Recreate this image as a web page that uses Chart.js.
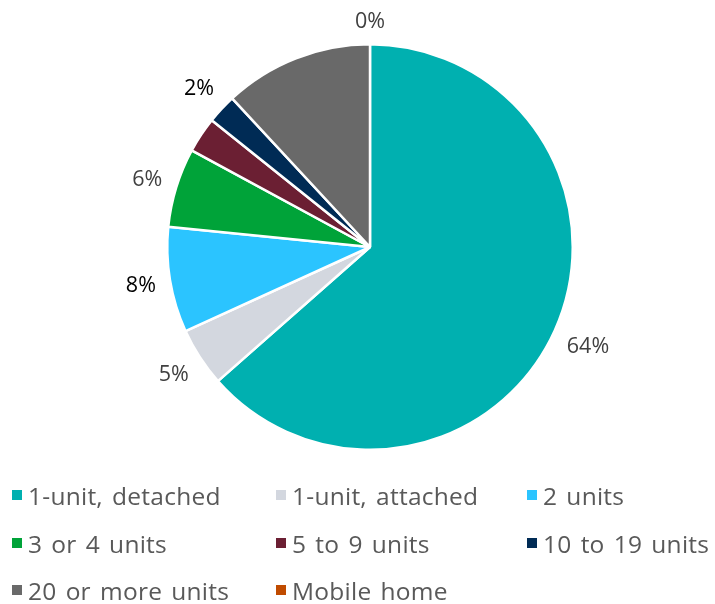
<!DOCTYPE html>
<html>
<head>
<meta charset="utf-8">
<script src="https://cdn.jsdelivr.net/npm/chart.js@4"></script>
<style>
  html, body { margin: 0; padding: 0; background: #fff; }
  #wrap { position: relative; width: 715px; height: 604px; }
  #pie { position: absolute; left: 0; top: 0; }
  #legend { position: absolute; left: 0; top: 0; width: 715px; height: 604px; pointer-events: none;
            font-family: "Open Sans", Lato, sans-serif; font-size: 24.5px; color: #595959;
            letter-spacing: 0.25px; word-spacing: 2.5px; }
  .item { position: absolute; white-space: nowrap; display: flex; align-items: center; }
  .box { width: 10px; height: 10px; margin-right: 6px; }
</style>
</head>
<body>
<div id="wrap">
  <canvas id="pie" width="715" height="604"></canvas>
  <div id="legend"></div>
</div>
<script>
// housing type shares (percent)
const categories = ['1-unit, detached', '1-unit, attached', '2 units', '3 or 4 units',
                    '5 to 9 units', '10 to 19 units', '20 or more units', 'Mobile home'];
const shares = [63.5, 4.7, 8.4, 6.3, 2.85, 2.35, 11.9, 0.0];
// labels that are actually shown next to the slices ('' = none)
const shownLabels = ['64%', '5%', '8%', '6%', '', '2%', '', '0%'];

const colors = ['#00B0B0', '#D3D7DF', '#2BC4FF', '#00A339', '#6B1F33', '#002B55', '#696969', '#C04B00'];
const labelColors = ['#404040', '#404040', '#000000', '#404040', '#404040', '#000000', '#404040', '#404040'];

// draws the % labels just outside each slice
const outsideLabels = {
    id: 'outsideLabels',
    afterDatasetsDraw(chart) {
        const ctx = chart.ctx;
        const meta = chart.getDatasetMeta(0);
        ctx.save();
        ctx.font = '21.5px "Open Sans", Lato, sans-serif';
        ctx.textAlign = 'center';
        ctx.textBaseline = 'middle';
        meta.data.forEach((arc, i) => {
            const txt = shownLabels[i];
            if (!txt) return;
            const mid = (arc.startAngle + arc.endAngle) / 2;
            const cos = Math.cos(mid), sin = Math.sin(mid);
            const w = ctx.measureText(txt).width;
            const h = 20;
            const d = arc.outerRadius + 13 + Math.abs(cos) * w / 2 + Math.abs(sin) * h / 2;
            ctx.fillStyle = labelColors[i];
            ctx.fillText(txt, arc.x + cos * d, arc.y + sin * d + 1);
        });
        ctx.restore();
    }
};

const chart = new Chart(document.getElementById('pie'), {
    type: 'pie',
    data: {
        labels: categories,
        datasets: [{
            data: shares,
            backgroundColor: colors,
            borderColor: '#ffffff',
            borderWidth: 2.5
        }]
    },
    options: {
        responsive: false,
        animation: false,
        layout: { padding: { left: 166, right: 141, top: 43, bottom: 153 } },
        plugins: {
            legend: { display: false },
            tooltip: { enabled: false }
        }
    },
    plugins: [outsideLabels]
});

// legend in three columns, like the original
const legendCols = [12, 276, 527];
const legendRows = [497, 545, 592];
const legend = document.getElementById('legend');
categories.forEach((name, i) => {
    const el = document.createElement('div');
    el.className = 'item';
    el.style.left = legendCols[i % 3] + 'px';
    el.style.top = (legendRows[Math.floor(i / 3)] - 17) + 'px';
    el.style.height = '30px';
    el.innerHTML = `<span class="box" style="background:${colors[i]}"></span><span>${name}</span>`;
    legend.appendChild(el);
});
</script>
</body>
</html>
